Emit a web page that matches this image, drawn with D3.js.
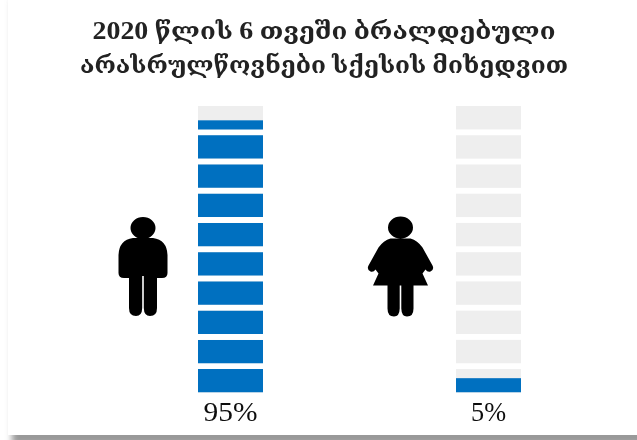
<!DOCTYPE html>
<html>
<head>
<meta charset="utf-8">
<script src="https://cdn.jsdelivr.net/npm/d3@7"></script>
<style>
html, body { margin: 0; padding: 0; background: #fff; }
svg { display: block; }
text { font-family: "Liberation Serif", "DejaVu Serif", serif; }
</style>
</head>
<body>
<div id="container"></div>
<script>
var titleLines = ["2020 წლის 6 თვეში ბრალდებული", "არასრულწოვნები სქესის მიხედვით"]
var groups = ["male", "female"]
var shares = [95, 5]
var shareLabels = ["95%", "5%"]
var cells = [0, 1, 2, 3, 4, 5, 6, 7, 8, 9]

var ancho = 637
var alto = 440

var svg = d3.select("#container").append("svg")
    .attr("width", ancho)
    .attr("height", alto)

var defs = svg.append("defs")
var sombra = defs.append("filter").attr("id", "sombra")
    .attr("x", "-5%").attr("y", "-5%").attr("width", "110%").attr("height", "110%")
sombra.append("feGaussianBlur").attr("stdDeviation", 3)
var suave = defs.append("filter").attr("id", "suave")
    .attr("x", "-2%").attr("y", "-2%").attr("width", "104%").attr("height", "104%")
suave.append("feGaussianBlur").attr("stdDeviation", 0.45)

// the picture is a pasted card with a soft shadow
svg.append("rect").attr("x", 12).attr("y", 0).attr("width", 640).attr("height", 445)
    .attr("fill", "#999").attr("filter", "url(#sombra)")
svg.append("rect").attr("x", 8).attr("y", -5).attr("width", 640).attr("height", 440)
    .attr("fill", "#fff")

var chart = svg.append("g").attr("filter", "url(#suave)")

var titulos = chart.selectAll("text.titulo")
    .data(titleLines)
    .enter()
    .append("text")
    .attr("class", "titulo")
    .attr("x", 324)
    .attr("y", function(d, i) { return i == 0 ? 39 : 73 })
    .attr("text-anchor", "middle")
    .attr("font-size", 24)
    .attr("font-weight", "bold")
    .attr("fill", "#222")
    .attr("textLength", function(d, i) { return i == 0 ? 463 : 488 })
    .attr("lengthAdjust", "spacingAndGlyphs")

// digits come out larger than the georgian letters
titulos.selectAll("tspan")
    .data(function(d) { return d.split(/(\d+)/).filter(function(s) { return s.length > 0 }) })
    .enter()
    .append("tspan")
    .attr("font-size", function(d) { return /\d/.test(d) ? 26 : 24 })
    .text(function(d) { return d })

// escalas
var escalaX = d3.scaleOrdinal().domain(groups).range([198, 456])
var anchoBarra = 65
var escalaCelda = d3.scaleBand().domain(cells).range([392.5, 106]).paddingInner(0.2).paddingOuter(0)
var escalaValor = d3.scaleLinear().domain([0, 100]).range([392.5, 106])

var columnas = chart.selectAll("g.columna")
    .data(groups)
    .enter()
    .append("g")
    .attr("class", "columna")
    .attr("transform", function(d) { return "translate(" + escalaX(d) + ",0)" })

columnas.each(function(g, i) {
    var col = d3.select(this)
    var clip = defs.append("clipPath").attr("id", "celdas" + i)
    clip.selectAll("rect").data(cells).enter().append("rect")
        .attr("x", 0)
        .attr("y", function(d) { return escalaCelda(d) })
        .attr("width", anchoBarra)
        .attr("height", escalaCelda.bandwidth())

    col.selectAll("rect.celda").data(cells).enter().append("rect")
        .attr("class", "celda")
        .attr("x", 0)
        .attr("y", function(d) { return escalaCelda(d) })
        .attr("width", anchoBarra)
        .attr("height", escalaCelda.bandwidth())
        .attr("fill", "#eeeeee")

    col.append("rect")
        .attr("x", 0)
        .attr("y", escalaValor(shares[i]))
        .attr("width", anchoBarra)
        .attr("height", escalaValor(0) - escalaValor(shares[i]))
        .attr("fill", "#0070c0")
        .attr("clip-path", "url(#celdas" + i + ")")

    col.append("text")
        .attr("x", anchoBarra / 2)
        .attr("y", 421)
        .attr("text-anchor", "middle")
        .attr("font-size", 27)
        .attr("fill", "#111")
        .attr("textLength", i == 0 ? 54 : 35)
        .attr("lengthAdjust", "spacingAndGlyphs")
        .text(shareLabels[i])
})

// iconos
var cabeza = "M-12.5,0 a12.5,11 0 1,1 25,0 a12.5,11 0 1,1 -25,0 Z "
var iconoHombre = cabeza + "M-10,10 H10 Q24,12 24.5,27 V45 Q24.5,50 19,50 H14 V80 Q14,88 7,88 Q1,88 0.8,80 V48 H-0.8 V80 Q-1,88 -7,88 Q-14,88 -14,80 V50 H-19 Q-24.5,50 -24.5,45 V27 Q-24,12 -10,10 Z"
var iconoMujer = cabeza + "M-10,11 H10 Q17,13 22,20 L32,38 Q34,42 30,44 Q27,45 25,42 L22,46 L27.5,58 H13 V81 Q13,89 6.5,89 Q1,89 0.8,81 V58 H-0.8 V81 Q-1,89 -6.5,89 Q-13,89 -13,81 V58 H-27.5 L-22,46 L-25,42 Q-27,45 -30,44 Q-34,42 -32,38 L-22,20 Q-17,13 -10,11 Z"

chart.append("path").attr("d", iconoHombre).attr("transform", "translate(143,228)").attr("fill", "#000")
chart.append("path").attr("d", iconoMujer).attr("transform", "translate(400.5,227.5)").attr("fill", "#000")
</script>
</body>
</html>
